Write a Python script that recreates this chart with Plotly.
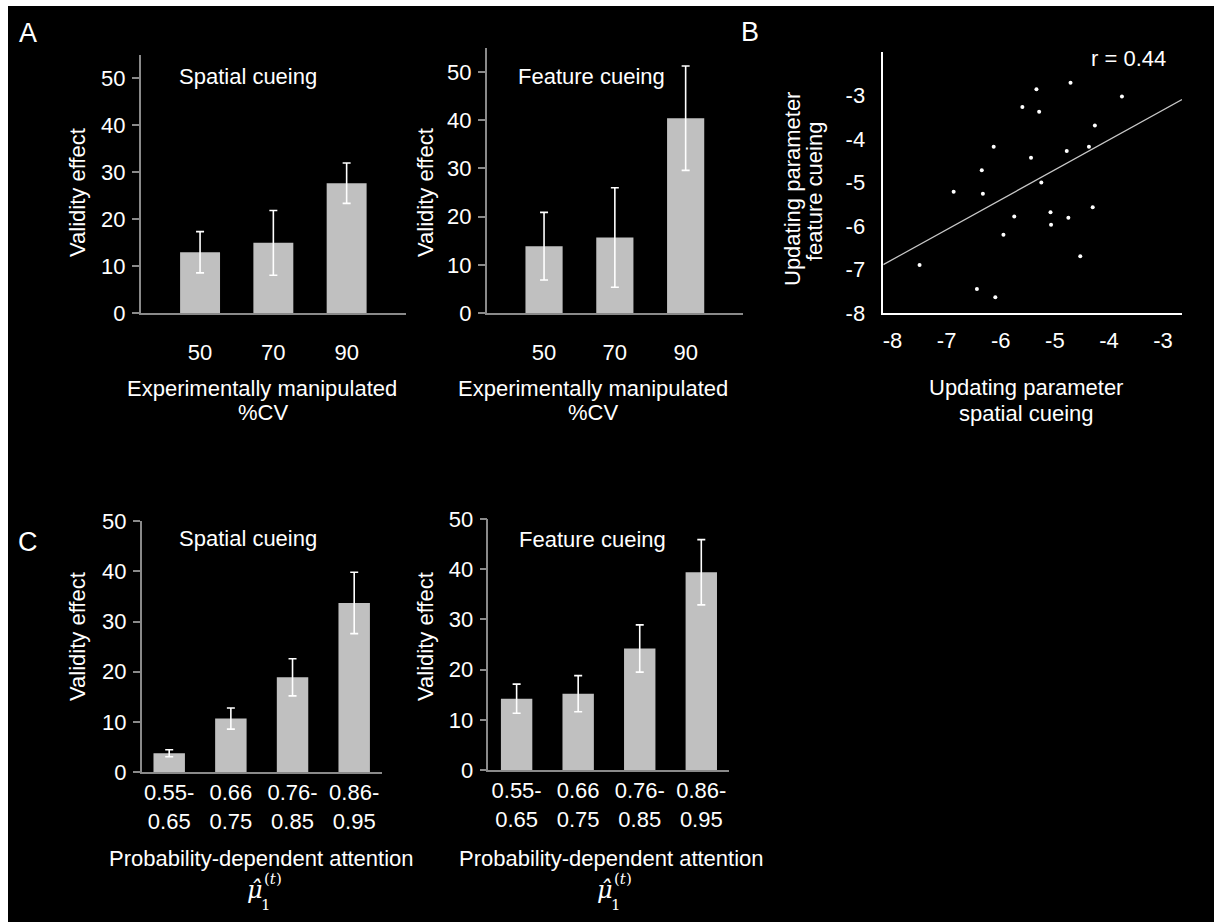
import plotly.graph_objects as go
import numpy as np

W, H = 1214, 922

# ---------------- data ----------------
cv_levels = ["50", "70", "90"]
spatial_cv = [13.0, 15.0, 27.7]
spatial_cv_err = [4.4, 6.9, 4.3]
feature_cv = [13.9, 15.7, 40.4]
feature_cv_err = [7.0, 10.3, 10.8]

mu_bins = ["0.55-<br>0.65", "0.66<br>0.75", "0.76-<br>0.85", "0.86-<br>0.95"]
spatial_mu = [3.8, 10.7, 18.9, 33.7]
spatial_mu_err = [0.7, 2.1, 3.7, 6.1]
feature_mu = [14.2, 15.2, 24.2, 39.4]
feature_mu_err = [2.9, 3.6, 4.7, 6.5]

upd_spatial = [-7.50, -6.44, -6.10, -6.87, -6.35, -6.33, -6.13, -5.95, -5.75, -5.60, -5.34, -5.29,
               -5.44, -5.25, -5.08, -5.07, -4.78, -4.75, -4.71, -4.53, -4.37, -4.30, -4.26, -3.76]
upd_feature = [-6.89, -7.44, -7.63, -5.21, -4.72, -5.26, -4.18, -6.20, -5.78, -3.27, -2.86, -3.38,
               -4.43, -5.00, -5.68, -5.97, -4.28, -5.81, -2.71, -6.69, -4.18, -5.57, -3.69, -3.03]
scatter_ticks = [-8, -7, -6, -5, -4, -3]
scatter_ticktext = ["-8", "-7", "-6", "-5", "-4", "-3"]

FONT = "Liberation Sans, Arial, sans-serif"
BAR = "#c0c0c0"
AXC = "#8a8a8a"
FS = 22


def fx(px):
    return px / W


def fy(py):
    return 1 - py / H


fig = go.Figure()


def bar_trace(cats, vals, errs, xa, ya, width):
    return go.Bar(x=cats, y=vals, xaxis=xa, yaxis=ya, width=width,
                  marker=dict(color=BAR, line=dict(width=0)),
                  error_y=dict(type="data", array=errs, color="white", thickness=1.6, width=4),
                  showlegend=False)


fig.add_trace(bar_trace(cv_levels, spatial_cv, spatial_cv_err, "x", "y", 0.545))
fig.add_trace(bar_trace(cv_levels, feature_cv, feature_cv_err, "x2", "y2", 0.525))
fig.add_trace(bar_trace(mu_bins, spatial_mu, spatial_mu_err, "x4", "y4", 0.51))
fig.add_trace(bar_trace(mu_bins, feature_mu, feature_mu_err, "x5", "y5", 0.51))

# scatter + regression
xr = [-8.17, -2.65]
slope, icpt = np.polyfit(upd_spatial, upd_feature, 1)
fig.add_trace(go.Scatter(x=xr, y=[slope * v + icpt for v in xr], mode="lines",
                         line=dict(color="#c8c8c8", width=1.2), xaxis="x3", yaxis="y3",
                         showlegend=False))
fig.add_trace(go.Scatter(x=upd_spatial, y=upd_feature, mode="markers",
                         marker=dict(color="white", size=4), xaxis="x3", yaxis="y3",
                         showlegend=False))

tickfont = dict(family=FONT, size=FS, color="white")


def bar_x(dom, rng, standoff, anchor):
    return dict(domain=dom, type="category", range=rng, showline=True, linecolor=AXC,
                linewidth=1.5, ticks="", showgrid=False, zeroline=False, tickfont=tickfont,
                ticklabelstandoff=standoff, fixedrange=True, automargin=False, anchor=anchor)


def bar_y(dom, rng, anchor):
    return dict(domain=dom, range=rng, showline=True, linecolor=AXC, linewidth=1.5,
                ticks="outside", ticklen=7, tickcolor=AXC, tickwidth=1.5,
                tickvals=[0, 10, 20, 30, 40, 50], showgrid=False, zeroline=False,
                tickfont=tickfont, anchor=anchor, ticklabelstandoff=2, automargin=False)


layout = dict(
    width=W, height=H, autosize=False,
    margin=dict(l=0, r=0, t=0, b=0, pad=0),
    paper_bgcolor="white", plot_bgcolor="rgba(0,0,0,0)",
    font=dict(family=FONT, size=FS, color="white"),
    xaxis=bar_x([fx(140.7), fx(406)], [-0.81, 2.81], 19, "y"),
    yaxis=bar_y([fy(313.3), fy(55)], [0, 55], "x"),
    xaxis2=bar_x([fx(486.7), fx(743)], [-0.81, 2.81], 19, "y2"),
    yaxis2=bar_y([fy(313.3), fy(47.7)], [0, 55], "x2"),
    xaxis4=bar_x([fx(141.7), fx(381.7)], [-0.446, 3.446], 0, "y4"),
    yaxis4=bar_y([fy(772.3), fy(521)], [0, 50], "x4"),
    xaxis5=bar_x([fx(488.3), fx(729.3)], [-0.46, 3.455], 0, "y5"),
    yaxis5=bar_y([fy(770), fy(519)], [0, 50], "x5"),
    xaxis3=dict(domain=[fx(883.3), fx(1182)], range=xr, anchor="y3", showline=True,
                linecolor="white", linewidth=1.5, ticks="", showgrid=False, zeroline=False,
                tickvals=scatter_ticks, ticktext=scatter_ticktext, tickfont=tickfont,
                ticklabelstandoff=7, automargin=False),
    yaxis3=dict(domain=[fy(313.3), fy(51.7)], range=[-8, -2], anchor="x3", showline=True,
                linecolor="white", linewidth=1.5, ticks="", showgrid=False, zeroline=False,
                tickvals=scatter_ticks, ticktext=scatter_ticktext, tickfont=tickfont,
                ticklabelstandoff=12, automargin=False),
    shapes=[dict(type="rect", xref="paper", yref="paper", x0=fx(8), x1=1, y0=0, y1=fy(6),
                 fillcolor="black", line=dict(width=0), layer="below")],
)
fig.update_layout(**layout)


def ann(text, x, y, size=FS, angle=0, family=FONT):
    fig.add_annotation(text=text, x=fx(x), y=fy(y), xref="paper", yref="paper",
                       xanchor="center", yanchor="middle", showarrow=False, textangle=angle,
                       font=dict(family=family, size=size, color="white"))


# panel letters
ann("A", 28, 33, 27)
ann("B", 750, 32, 27)
ann("C", 28, 542, 27)

# in-plot titles
ann("Spatial cueing", 248, 77)
ann("Feature cueing", 591, 77)
ann("r = 0.44", 1128, 59)
ann("Spatial cueing", 248, 538)
ann("Feature cueing", 592, 539)

# y axis titles
ann("Validity effect", 77, 193, angle=-90)
ann("Validity effect", 425, 193, angle=-90)
ann("Validity effect", 77, 637, angle=-90)
ann("Validity effect", 425, 637, angle=-90)
ann("Updating parameter", 792, 189, angle=-90)
ann("feature cueing", 815, 192, angle=-90)

# x axis titles
ann("Experimentally manipulated", 262, 388)
ann("%CV", 263, 412)
ann("Experimentally manipulated", 593, 388)
ann("%CV", 593, 412)
ann("Updating parameter", 1026, 387)
ann("spatial cueing", 1026, 413)
ann("Probability-dependent attention", 261, 858)
ann("Probability-dependent attention", 611, 858)

MATH = "DejaVu Serif, Liberation Serif, serif"
for cx in (261, 611):
    ann("<i>μ̂</i>", cx - 6, 890, 24, family=MATH)
    ann("1", cx + 5, 905, 15, family=MATH)
    ann("(<i>t</i>)", cx + 12, 879, 15, family=MATH)

fig.write_html("out.html")
